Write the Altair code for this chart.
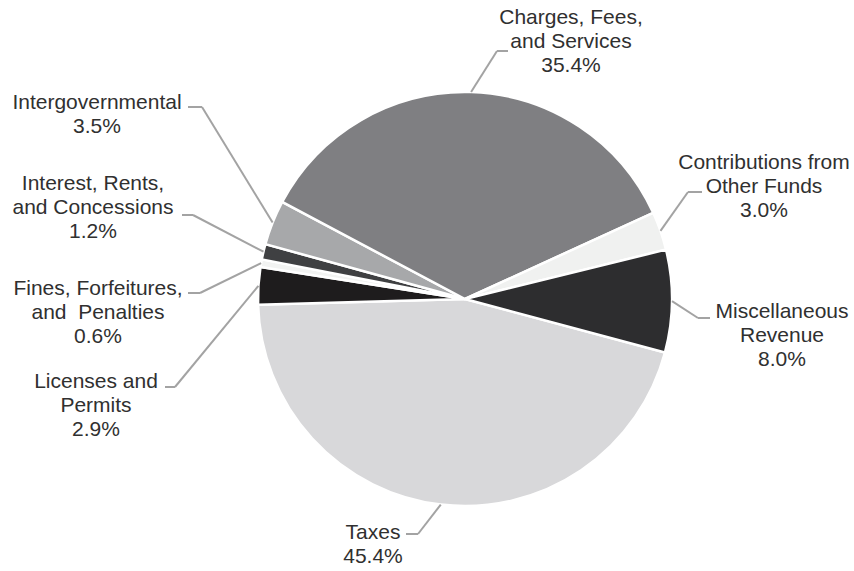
import math
import altair as alt
import pandas as pd

# ---- data ----
categories = [
    "Taxes",
    "Licenses and Permits",
    "Fines, Forfeitures, and Penalties",
    "Interest, Rents, and Concessions",
    "Intergovernmental",
    "Charges, Fees, and Services",
    "Contributions from Other Funds",
    "Miscellaneous Revenue",
]
label_names = [
    "Taxes",
    "Licenses and\nPermits",
    "Fines, Forfeitures,\nand\u00a0 Penalties",
    "Interest, Rents,\nand Concessions",
    "Intergovernmental",
    "Charges, Fees,\nand Services",
    "Contributions from\nOther Funds",
    "Miscellaneous\nRevenue",
]
shares = [45.4, 2.9, 0.6, 1.2, 3.5, 35.4, 3.0, 8.0]

# ---- styles / layout ----
colors = ["#d8d8da", "#1e1c1d", "#f2f3f2", "#3f4042", "#a7a8aa", "#7f7f82", "#f0f1f0", "#2d2d2f"]
W, H = 854, 571
CX, CY, R = 465, 299, 207
START = math.radians(105)

# label centre x, first baseline y, elbow x, elbow y, tail x
label_layout = {
    "Taxes": (373, 539, 418, 534, 406),
    "Licenses and Permits": (96, 388, 175, 387, 165),
    "Fines, Forfeitures, and Penalties": (98, 295, 200, 293, 188),
    "Interest, Rents, and Concessions": (93, 190, 193, 215, 182),
    "Intergovernmental": (97, 109, 202, 107, 188),
    "Charges, Fees, and Services": (571, 24, 497, 51, 508),
    "Contributions from Other Funds": (764, 169, 688, 192, 702),
    "Miscellaneous Revenue": (782, 318, 698, 318, 710),
}

df = pd.DataFrame({
    "idx": list(range(len(categories))),
    "category": categories,
    "value": shares,
    "label": [f"{n}\n{v:.1f}%" for n, v in zip(label_names, shares)],
    "lx": [label_layout[c][0] for c in categories],
    "ly": [label_layout[c][1] for c in categories],
    "ex": [label_layout[c][2] for c in categories],
    "ey": [label_layout[c][3] for c in categories],
    "tx": [label_layout[c][4] for c in categories],
})

base = alt.Chart(df)

pie = base.mark_arc(outerRadius=R, stroke="white", strokeWidth=2.5).encode(
    theta=alt.Theta("value:Q", stack=True,
                    scale=alt.Scale(range=[START, START + 2 * math.pi])),
    order=alt.Order("idx:Q"),
    color=alt.Color("category:N", scale=alt.Scale(domain=categories, range=colors), legend=None),
    x=alt.value(CX),
    y=alt.value(CY),
)

leader_base = base.transform_window(
    cum="sum(value)", sort=[alt.SortField("idx")], frame=[None, 0]
).transform_joinaggregate(
    total="sum(value)"
).transform_calculate(
    mid=f"{START} + 2*PI*(datum.cum - datum.value/2)/datum.total"
).transform_calculate(
    sx=f"{CX} + {R}*sin(datum.mid)",
    sy=f"{CY} - {R}*cos(datum.mid)",
)

diag = leader_base.mark_rule(color="#a3a3a3", strokeWidth=2).encode(
    x=alt.X("sx:Q", scale=None),
    y=alt.Y("sy:Q", scale=None),
    x2="ex:Q",
    y2="ey:Q",
)

horiz = base.mark_rule(color="#a3a3a3", strokeWidth=2).encode(
    x=alt.X("ex:Q", scale=None),
    y=alt.Y("ey:Q", scale=None),
    x2="tx:Q",
    y2="ey:Q",
)

labels = base.mark_text(
    align="center", baseline="alphabetic", lineBreak="\n", lineHeight=24,
    font="Liberation Sans, Arial, sans-serif", fontSize=21, color="#303030",
).encode(
    x=alt.X("lx:Q", scale=None),
    y=alt.Y("ly:Q", scale=None),
    text="label:N",
)

chart = alt.layer(pie, diag, horiz, labels).properties(
    width=W, height=H, padding=0, autosize="none", background="white"
).configure_view(strokeWidth=0)

chart.save("out.html", embed_options={"renderer": "svg", "actions": False})
